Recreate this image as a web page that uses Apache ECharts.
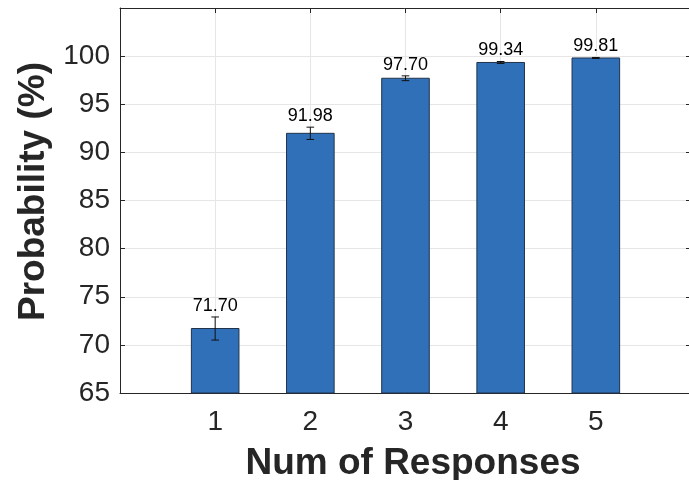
<!DOCTYPE html>
<html>
<head>
<meta charset="utf-8">
<script src="https://cdn.jsdelivr.net/npm/echarts@6/dist/echarts.min.js"></script>
<style>html,body{margin:0;padding:0;background:#fff}#c{width:689px;height:480px}</style>
</head>
<body>
<div id="c"></div>
<script>
const categories = [1, 2, 3, 4, 5];
const values = [71.70, 91.98, 97.70, 99.34, 99.81];
const errors = [1.2, 0.64, 0.25, 0.1, 0.05];
const yTicks = [65, 70, 75, 80, 85, 90, 95, 100];

const FONT = '"Liberation Sans", Arial, Helvetica, sans-serif';
const TXT = '#262626';
const chart = echarts.init(document.getElementById('c'), null, {renderer: 'canvas'});

const data = categories.map((c, i) => [c, values[i], errors[i]]);

const axisCommon = {
  type: 'value',
  axisLine: {show: true, onZero: false, lineStyle: {color: TXT, width: 1}},
  axisTick: {show: true, inside: true, length: 5, lineStyle: {color: TXT}},
};

chart.setOption({
  animation: false,
  grid: {left: 120, right: -2, top: 8, bottom: 87, containLabel: false, outerBoundsMode: 'none'},
  xAxis: [
    Object.assign({}, axisCommon, {
      min: 0, max: 6, interval: 1, position: 'bottom',
      axisLabel: {
        fontSize: 28, fontFamily: FONT, color: TXT, margin: 15,
        formatter: v => categories.indexOf(v) >= 0 ? String(v) : ''
      },
      splitLine: {show: true, lineStyle: {color: '#e6e6e6', width: 1}},
      name: 'Num of Responses', nameLocation: 'middle', nameGap: 52,
      nameTextStyle: {fontSize: 37, fontWeight: 'bold', fontFamily: FONT, color: TXT, padding: [0, 0, 0, 15]}
    }),
    Object.assign({}, axisCommon, {
      min: 0, max: 6, interval: 1, position: 'top',
      axisLabel: {show: false}, splitLine: {show: false}
    })
  ],
  yAxis: [
    Object.assign({}, axisCommon, {
      min: 65, max: 105, interval: 5, position: 'left',
      axisLabel: {
        fontSize: 28, fontFamily: FONT, color: TXT, margin: 10,
        formatter: v => yTicks.indexOf(v) >= 0 ? String(v) : ''
      },
      splitLine: {show: true, lineStyle: {color: '#e6e6e6', width: 1}},
      name: 'Probability (%)', nameLocation: 'middle', nameGap: 58,
      nameTextStyle: {fontSize: 37, fontWeight: 'bold', fontFamily: FONT, color: TXT, padding: [0, 0, 0, 18]}
    }),
    Object.assign({}, axisCommon, {
      min: 65, max: 105, interval: 5, position: 'right',
      axisLabel: {show: false}, splitLine: {show: false}
    })
  ],
  series: [{
    type: 'custom',
    xAxisIndex: 0, yAxisIndex: 0,
    data: data,
    renderItem: function (params, api) {
      const x = api.value(0), y = api.value(1), e = api.value(2);
      const w = api.size([0.5, 0])[0];
      const capW = api.size([0.08, 0])[0];
      const top = api.coord([x, y]);
      const base = api.coord([x, 65]);
      const eHi = api.coord([x, y + e]);
      const eLo = api.coord([x, y - e]);
      return {
        type: 'group',
        children: [
          {type: 'rect', shape: {x: top[0] - w / 2, y: top[1], width: w, height: base[1] - top[1]},
           style: {fill: '#3070b8', stroke: '#20334a', lineWidth: 1}},
          {type: 'line', shape: {x1: top[0], y1: eHi[1], x2: top[0], y2: eLo[1]}, style: {stroke: '#111', lineWidth: 1}},
          {type: 'line', shape: {x1: top[0] - capW / 2, y1: eHi[1], x2: top[0] + capW / 2, y2: eHi[1]}, style: {stroke: '#111', lineWidth: 1}},
          {type: 'line', shape: {x1: top[0] - capW / 2, y1: eLo[1], x2: top[0] + capW / 2, y2: eLo[1]}, style: {stroke: '#111', lineWidth: 1}},
          {type: 'text', x: top[0], y: eHi[1] - 2,
           style: {text: y.toFixed(2), fontSize: 18, fontFamily: FONT, fill: '#000', align: 'center', verticalAlign: 'bottom'}}
        ]
      };
    }
  }]
});
</script>
</body>
</html>
